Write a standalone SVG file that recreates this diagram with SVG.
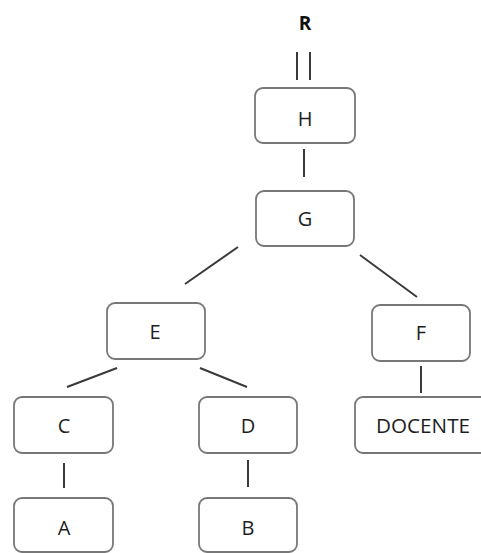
<svg xmlns="http://www.w3.org/2000/svg" width="481" height="553" viewBox="0 0 481 553">
<style>
.box{fill:#fff;stroke:#777;stroke-width:1.8}
.lbl{font-family:"Open Sans","Liberation Sans",sans-serif;font-size:20px;fill:#1e1e1e;text-anchor:middle}
.con line{stroke:#3a3a3a;stroke-width:2}
</style>
<rect width="481" height="553" fill="#fff"/>
<text x="305" y="30" font-family="Open Sans, Liberation Sans, sans-serif" font-weight="bold" font-size="19" text-anchor="middle" fill="#111">R</text>
<g class="con">
<line x1="297" y1="52" x2="297" y2="80"/>
<line x1="310" y1="52" x2="310" y2="80"/>
<line x1="304" y1="149" x2="304" y2="177"/>
<line x1="238" y1="247" x2="185" y2="284"/>
<line x1="360" y1="255" x2="417" y2="297"/>
<line x1="117" y1="368" x2="67" y2="387"/>
<line x1="200" y1="368" x2="247" y2="387"/>
<line x1="421" y1="366" x2="421" y2="393"/>
<line x1="64" y1="463" x2="64" y2="488"/>
<line x1="248" y1="460" x2="248" y2="487"/>
</g>
<g id="H"><rect class="box" x="255" y="88" width="100" height="55" rx="8"/><text class="lbl" x="305" y="126">H</text></g>
<g id="G"><rect class="box" x="256" y="191" width="98" height="55" rx="8"/><text class="lbl" x="305" y="226">G</text></g>
<g id="E"><rect class="box" x="107" y="303" width="98" height="56" rx="8"/><text class="lbl" x="155" y="339">E</text></g>
<g id="F"><rect class="box" x="372" y="305" width="98" height="56" rx="8"/><text class="lbl" x="421" y="340">F</text></g>
<g id="C"><rect class="box" x="14" y="397" width="99" height="56" rx="8"/><text class="lbl" x="64" y="433">C</text></g>
<g id="D"><rect class="box" x="199" y="397" width="98" height="56" rx="8"/><text class="lbl" x="248" y="433">D</text></g>
<g id="DOCENTE"><rect class="box" x="355" y="397" width="135" height="56" rx="8"/><text class="lbl" x="423" y="433" textLength="94" lengthAdjust="spacingAndGlyphs">DOCENTE</text></g>
<g id="A"><rect class="box" x="14" y="498" width="99" height="54" rx="8"/><text class="lbl" x="64" y="535">A</text></g>
<g id="B"><rect class="box" x="199" y="498" width="98" height="54" rx="8"/><text class="lbl" x="248" y="535">B</text></g>
</svg>
